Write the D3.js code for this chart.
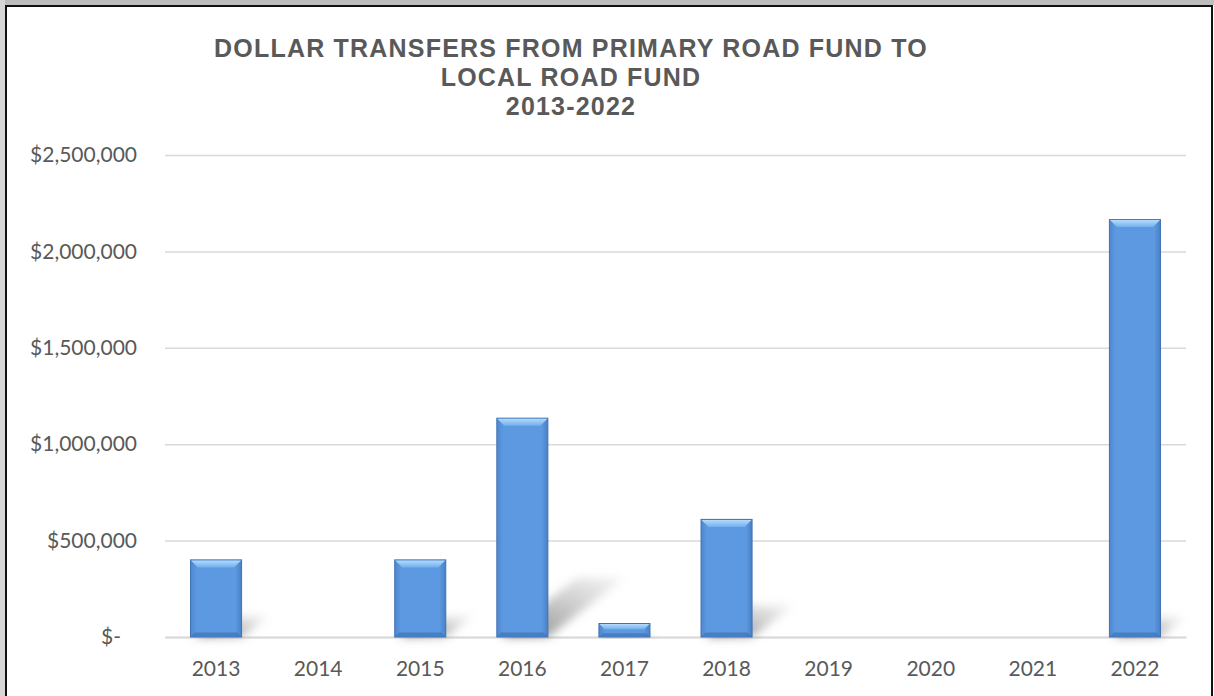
<!DOCTYPE html>
<html>
<head>
<meta charset="utf-8">
<script src="https://cdn.jsdelivr.net/npm/d3@7"></script>
<style>
  html, body { margin: 0; padding: 0; background: #fff; }
  svg { display: block; }
</style>
</head>
<body>
<div class="chart"></div>
<script>
const years = ["2013","2014","2015","2016","2017","2018","2019","2020","2021","2022"];
const transfers = [400000, 0, 400000, 1135000, 70000, 610000, 0, 0, 0, 2165000];
const yTicks = [0, 500000, 1000000, 1500000, 2000000, 2500000];
const titleLines = ["DOLLAR TRANSFERS FROM PRIMARY ROAD FUND TO", "LOCAL ROAD FUND", "2013-2022"];

const W = 1214, H = 696;
const plot = {left: 165, right: 1186, top: 155, bottom: 637};

const svg = d3.select(".chart").append("svg")
    .attr("width", W)
    .attr("height", H);

const defs = svg.append("defs");

// shadow blur
defs.append("filter").attr("id", "blur")
    .attr("x", "-50%").attr("y", "-50%").attr("width", "200%").attr("height", "200%")
  .append("feGaussianBlur").attr("stdDeviation", 5);

// bar body gradient (left to right)
const body = defs.append("linearGradient").attr("id", "barBody")
    .attr("x1", "0").attr("x2", "1").attr("y1", "0").attr("y2", "0");
body.append("stop").attr("offset", "0").attr("stop-color", "#4f87cf");
body.append("stop").attr("offset", "0.12").attr("stop-color", "#5c99e0");
body.append("stop").attr("offset", "0.88").attr("stop-color", "#5c99e0");
body.append("stop").attr("offset", "1").attr("stop-color", "#4a80c4");

const topBevel = defs.append("linearGradient").attr("id", "barTop")
    .attr("x1", "0").attr("x2", "0").attr("y1", "0").attr("y2", "1");
topBevel.append("stop").attr("offset", "0").attr("stop-color", "#b4dbfb");
topBevel.append("stop").attr("offset", "1").attr("stop-color", "#72b0ee");

const shadowGrad = defs.append("linearGradient").attr("id", "shadowGrad")
    .attr("x1", "0").attr("x2", "1").attr("y1", "1").attr("y2", "0");
shadowGrad.append("stop").attr("offset", "0").attr("stop-color", "#7a7a7a").attr("stop-opacity", 0.95);
shadowGrad.append("stop").attr("offset", "1").attr("stop-color", "#b5b5b5").attr("stop-opacity", 0.15);

// frame around the picture
svg.append("rect").attr("x", 0).attr("y", 0).attr("width", W).attr("height", 5).attr("fill", "#bdbdbd");
svg.append("rect").attr("x", 0).attr("y", 0).attr("width", 5).attr("height", H).attr("fill", "#d6d6d6");
svg.append("rect")
    .attr("x", 6).attr("y", 6)
    .attr("width", 1206).attr("height", H)
    .attr("fill", "#fff")
    .attr("stroke", "#111")
    .attr("stroke-width", 2);

const x = d3.scaleBand()
    .domain(years)
    .range([plot.left, plot.right])
    .paddingInner(0.5)
    .paddingOuter(0.25);

const y = d3.scaleLinear()
    .domain([0, 2500000])
    .range([plot.bottom, plot.top]);

// title
svg.append("g")
  .selectAll("text")
  .data(titleLines)
  .join("text")
    .attr("x", 571)
    .attr("y", (d, i) => 57 + i * 29)
    .attr("text-anchor", "middle")
    .attr("font-family", "Liberation Sans, Arial, sans-serif")
    .attr("font-weight", "bold")
    .attr("font-size", "25px")
    .attr("letter-spacing", "1.2px")
    .attr("fill", "#595959")
    .text(d => d);

// gridlines + y labels
const fmt = v => v === 0 ? "$-" : "$" + d3.format(",")(v);
const yAxis = svg.append("g")
    .attr("transform", `translate(${plot.left},0)`)
    .call(d3.axisLeft(y).tickValues(yTicks).tickSize(-(plot.right - plot.left)).tickPadding(28).tickFormat(fmt));
yAxis.select(".domain").remove();
yAxis.selectAll(".tick line")
    .attr("stroke", "#d9d9d9")
    .attr("stroke-width", 1.5);
yAxis.selectAll(".tick text")
    .attr("font-family", "Lato, sans-serif")
    .attr("font-size", "21px")
    .attr("fill", "#595959");
yAxis.selectAll(".tick").filter(d => d === 0).select("text").attr("dx", "-16px");

// x labels
const xAxis = svg.append("g")
    .attr("transform", `translate(0,${plot.bottom})`)
    .call(d3.axisBottom(x).tickSize(0).tickPadding(24));
xAxis.select(".domain")
    .attr("stroke", "#d9d9d9")
    .attr("stroke-width", 2);
xAxis.selectAll(".tick text")
    .attr("font-family", "Lato, sans-serif")
    .attr("font-size", "21px")
    .attr("fill", "#595959");

const data = years.map((yr, i) => ({year: yr, value: transfers[i]})).filter(d => d.value > 0);

// perspective shadows behind the bars
svg.append("g")
  .selectAll("path")
  .data(data)
  .join("path")
    .attr("filter", "url(#blur)")
    .attr("fill", "url(#shadowGrad)")
    .attr("d", d => {
      const x0 = x(d.year), x1 = x0 + x.bandwidth();
      const yb = y(0), h = yb - y(d.value);
      const dx = Math.min(h * 0.35, plot.right - x1 - 2);
      const dy = Math.min(h * 0.27, dx * 0.85);
      return `M${x0 + 4},${yb} L${x1},${yb} L${x1 + dx},${yb - dy} L${x0 + dx + 4},${yb - dy} Z`;
    });

// bars with bevel
const bars = svg.append("g")
  .selectAll("g")
  .data(data)
  .join("g");

bars.append("rect")
    .attr("x", d => x(d.year))
    .attr("y", d => y(d.value))
    .attr("width", x.bandwidth())
    .attr("height", d => y(0) - y(d.value))
    .attr("fill", "url(#barBody)")
    .attr("stroke", "#3f72b4")
    .attr("stroke-width", 1);

bars.append("path")
    .attr("fill", "url(#barTop)")
    .attr("d", d => {
      const x0 = x(d.year) + 0.5, x1 = x(d.year) + x.bandwidth() - 0.5;
      const yt = y(d.value) + 0.5, h = y(0) - y(d.value);
      const b = Math.min(7, h / 2.6);
      return `M${x0},${yt} L${x1},${yt} L${x1 - b},${yt + b} L${x0 + b},${yt + b} Z`;
    });

bars.append("path")
    .attr("fill", "#3f74b8")
    .attr("opacity", 0.7)
    .attr("d", d => {
      const x0 = x(d.year) + 0.5, x1 = x(d.year) + x.bandwidth() - 0.5;
      const yb = y(0) - 0.5, h = y(0) - y(d.value);
      const b = Math.min(4, h / 4);
      return `M${x0},${yb} L${x1},${yb} L${x1 - b},${yb - b} L${x0 + b},${yb - b} Z`;
    });
</script>
</body>
</html>
